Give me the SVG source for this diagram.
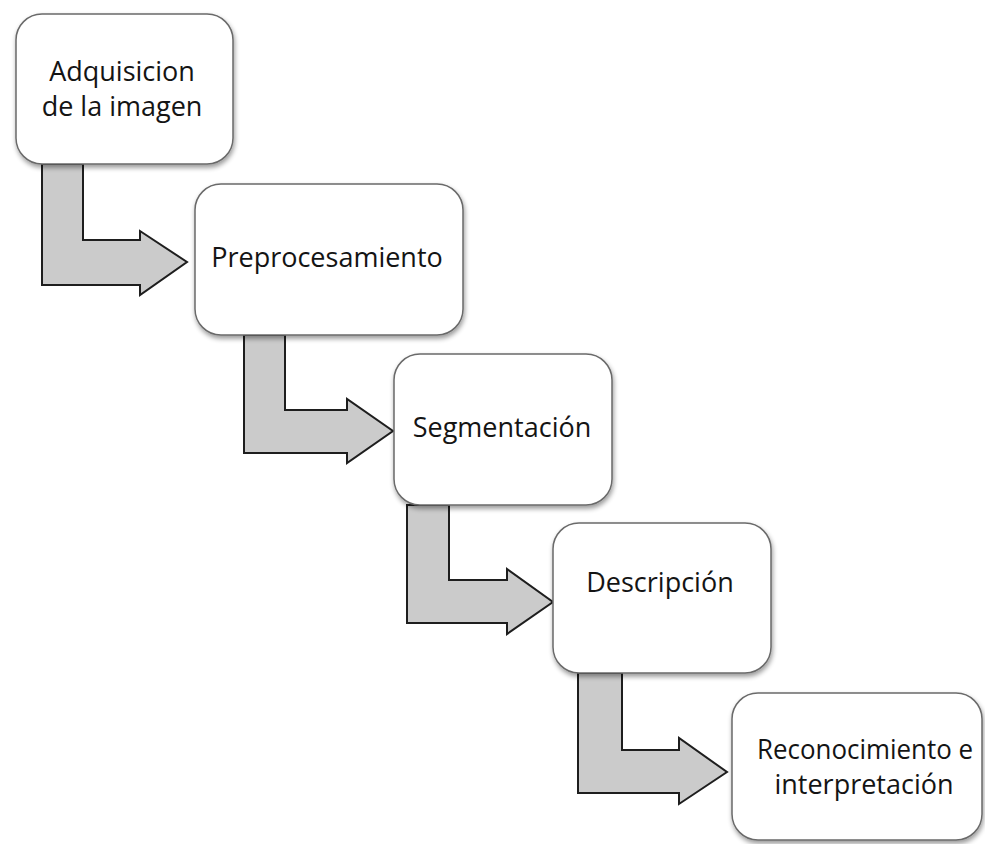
<svg xmlns="http://www.w3.org/2000/svg" width="985" height="844" viewBox="0 0 985 844">
  <style>
    .box { fill: #ffffff; stroke: #6a6a6a; stroke-width: 1.5; filter: url(#shadow); }
    .lbl { font-family: "Open Sans", "Noto Sans", sans-serif; font-size: 27px; fill: #141414; text-anchor: middle; }
    .arrow { fill: #cbcbcb; stroke: #1e1e1e; stroke-width: 2; stroke-linejoin: miter; }
  </style>
  <defs>
    <filter id="shadow" x="-10%" y="-10%" width="125%" height="130%">
      <feGaussianBlur in="SourceAlpha" stdDeviation="2.5"/>
      <feOffset dx="1" dy="3" result="b"/>
      <feComponentTransfer><feFuncA type="linear" slope="0.4"/></feComponentTransfer>
      <feMerge><feMergeNode/><feMergeNode in="SourceGraphic"/></feMerge>
    </filter>
  </defs>
  <rect width="985" height="844" fill="#ffffff"/>

  <!-- bent block arrows between consecutive stages -->
  <g id="connectors">
    <path class="arrow" d="M42,164 H83 V240 H140 V231 L187,262 L140,295 V285 H42 Z"/>
    <path class="arrow" d="M244,335 H285 V410 H347 V399 L393,431 L347,463 V453 H244 Z"/>
    <path class="arrow" d="M407,505 H449 V580 H507 V569 L553,602 L507,634 V623 H407 Z"/>
    <path class="arrow" d="M578,673 H622 V750 H679 V738 L727,772 L679,804 V793 H578 Z"/>
  </g>

  <g id="adquisicion">
    <rect class="box" x="16" y="14" width="217" height="150" rx="26"/>
    <text class="lbl" x="122" y="81">Adquisicion</text>
    <text class="lbl" x="122" y="116">de la imagen</text>
  </g>
  <g id="preprocesamiento">
    <rect class="box" x="195" y="184" width="268" height="151" rx="26"/>
    <text class="lbl" x="327" y="267">Preprocesamiento</text>
  </g>
  <g id="segmentacion">
    <rect class="box" x="394" y="354" width="218" height="151" rx="26"/>
    <text class="lbl" x="502" y="437">Segmentación</text>
  </g>
  <g id="descripcion">
    <rect class="box" x="553" y="523" width="218" height="150" rx="26"/>
    <text class="lbl" x="660" y="592">Descripción</text>
  </g>
  <g id="reconocimiento">
    <rect class="box" x="732" y="693" width="250" height="147" rx="26"/>
    <text class="lbl" x="865" y="759" textLength="216" lengthAdjust="spacingAndGlyphs">Reconocimiento e</text>
    <text class="lbl" x="864" y="794">interpretación</text>
  </g>
</svg>
